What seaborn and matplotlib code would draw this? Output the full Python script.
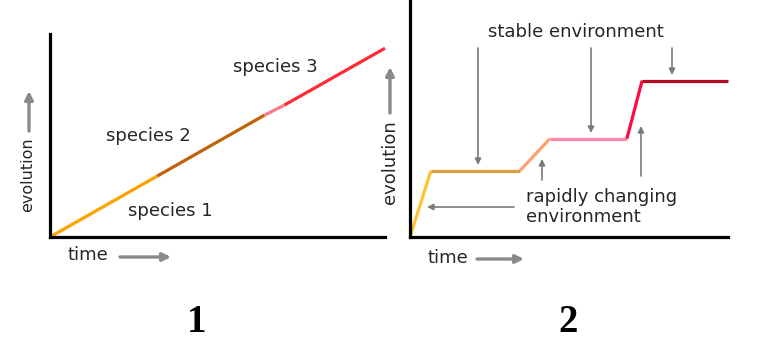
import matplotlib
matplotlib.use('Agg')
import matplotlib.pyplot as plt
from matplotlib.patches import FancyArrowPatch
import seaborn as sns
import pandas as pd

# panel 1: gradual evolution (one straight line, coloured by species)
time1 = [0, 3.2, 6.4, 7.0, 10]
evolution1 = [0, 3.0, 6.0, 6.5, 9.3]
segments1 = ['species 1', 'species 2', 'transition', 'species 3']
colors1 = ['#ffa200', '#c0620a', '#ff7a86', '#ff2a36']

# panel 2: punctuated evolution (rapid rises, stable plateaus)
time2 = [0, 0.66, 3.46, 4.4, 6.82, 7.3, 10]
evolution2 = [0, 2.8, 2.8, 4.15, 4.15, 6.6, 6.6]
segments2 = ['rise 1', 'stable 1', 'rise 2', 'stable 2', 'rise 3', 'stable 3']
colors2 = ['#ffc232', '#d8a040', '#ffa070', '#ff86aa', '#ff0a3c', '#b00a20']

W, H = 762, 364


def segment_frame(xs, ys, names):
    # each segment gets its two end points so the pieces join up
    rows = []
    for i, name in enumerate(names):
        rows.append({'time': xs[i], 'evolution': ys[i], 'segment': name})
        rows.append({'time': xs[i + 1], 'evolution': ys[i + 1], 'segment': name})
    return pd.DataFrame(rows)


def P(x, y):
    # pixel position (top-left origin) -> figure fraction
    return (x / W, 1 - y / H)


sns.set_style('white')
plt.rcParams['font.family'] = ['DejaVu Sans']

fig = plt.figure(figsize=(W / 100, H / 100), dpi=100)
ax1 = fig.add_axes([50 / W, (H - 237) / H, 335 / W, 203 / H])
ax2 = fig.add_axes([410 / W, (H - 237) / H, 318 / W, 237 / H])

df1 = segment_frame(time1, evolution1, segments1)
df2 = segment_frame(time2, evolution2, segments2)

sns.lineplot(data=df1, x='time', y='evolution', hue='segment',
             palette=dict(zip(segments1, colors1)), estimator=None,
             sort=False, linewidth=2.3, legend=False, ax=ax1)
sns.lineplot(data=df2, x='time', y='evolution', hue='segment',
             palette=dict(zip(segments2, colors2)), estimator=None,
             sort=False, linewidth=2.3, legend=False, ax=ax2)

for ax in (ax1, ax2):
    ax.set_xlim(0, 10)
    ax.set_ylim(0, 10)
    ax.set_xticks([])
    ax.set_yticks([])
    ax.set_xlabel('')
    ax.set_ylabel('')
    for line in ax.lines:
        line.set_clip_on(False)
        line.set_solid_capstyle('butt')
    for side in ('top', 'right'):
        ax.spines[side].set_visible(False)
    for side in ('left', 'bottom'):
        ax.spines[side].set_linewidth(2.3)
        ax.spines[side].set_color('black')

txt = '#262626'
fs = 13


def label(x, y, s, **kw):
    kw.setdefault('fontsize', fs)
    kw.setdefault('color', txt)
    fig.text(*P(x, y), s, **kw)


def arrow(x0, y0, x1, y1, lw=1.2, head=9, color='#7a7a7a'):
    fig.add_artist(FancyArrowPatch(P(x0, y0), P(x1, y1), transform=fig.transFigure,
                                   arrowstyle='-|>', mutation_scale=head,
                                   linewidth=lw, color=color, shrinkA=0, shrinkB=0))


# axis labels with their arrows
label(67, 255, 'time', ha='left', va='center')
arrow(120, 257, 171, 257, lw=2.4, head=12, color='#8a8a8a')
label(427, 258, 'time', ha='left', va='center')
arrow(477, 259, 524, 259, lw=2.4, head=12, color='#8a8a8a')

label(28, 175, 'evolution', rotation=90, ha='center', va='center', fontsize=11.5)
arrow(29, 131, 29, 91, lw=2.4, head=12, color='#8a8a8a')
label(390, 162, 'evolution', rotation=90, ha='center', va='center')
arrow(390, 113, 390, 67, lw=2.4, head=12, color='#8a8a8a')

# panel 1 species names
label(233, 67, 'species 3', ha='left', va='center')
label(106, 136, 'species 2', ha='left', va='center')
label(128, 211, 'species 1', ha='left', va='center')

# panel 2 annotations
label(488, 32, 'stable environment', ha='left', va='center')
arrow(478, 48, 478, 165)
arrow(591, 48, 591, 133)
arrow(672, 48, 672, 75)
label(526, 207, 'rapidly changing\nenvironment', ha='left', va='center',
      linespacing=1.15)
arrow(514, 207, 427, 207)
arrow(542, 180, 542, 159)
arrow(641, 176, 641, 126)

# panel numbers
for x, s in ((197, '1'), (568, '2')):
    fig.text(*P(x, 323), s, ha='center', va='center', fontsize=28,
             fontweight='bold', family=['Liberation Serif'], color='black')

fig.savefig('out.png', dpi=100)
